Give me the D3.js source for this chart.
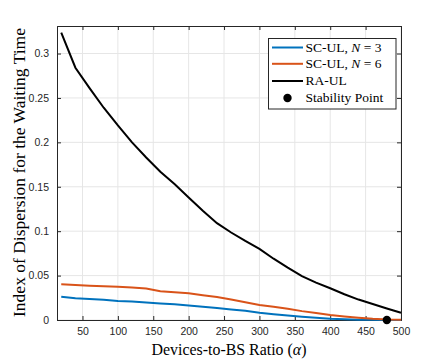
<!DOCTYPE html>
<html><head><meta charset="utf-8">
<script src="https://cdn.jsdelivr.net/npm/d3@7"></script>
<style>
body{margin:0;background:#fff;}
svg{display:block;}
.serif{font-family:"Liberation Serif","DejaVu Serif","Times New Roman",serif;}
</style></head>
<body>
<script>
const alphaRA = [20,40,60,80,100,120,140,160,180,200,220,240,260,280,300,320,340,360,380,400,420,440,460,480,500];
const raUL =    [0.3235,0.284,0.261,0.239,0.219,0.200,0.183,0.167,0.153,0.138,0.123,0.109,0.0985,0.089,0.080,0.069,0.059,0.0495,0.042,0.0357,0.029,0.023,0.018,0.013,0.0082];

const alphaSC = [20,40,60,80,100,120,140,160,180,200,220,240,260,280,300,320,340,360,380,400,420,440,460,480,500];
const scN3 =    [0.0263,0.0244,0.0236,0.0228,0.0214,0.0207,0.0198,0.0186,0.0176,0.0162,0.0148,0.0134,0.0119,0.0103,0.0082,0.0066,0.0050,0.0036,0.0024,0.0014,0.0008,0.0004,0.0002,0.0001,0.0001];
const scN6 =    [0.0402,0.0395,0.0386,0.0380,0.0375,0.0367,0.0355,0.0325,0.0312,0.0300,0.0278,0.0258,0.0230,0.0200,0.0169,0.0148,0.0126,0.0100,0.0078,0.0056,0.0040,0.0026,0.0014,0.0006,0.0003];

const stabilityX = [480];
const stabilityY = [0];

const xTicks = [50,100,150,200,250,300,350,400,450,500];
const yTicks = [0,0.05,0.1,0.15,0.2,0.25,0.3];

const seriesNames = ["SC-UL, N = 3","SC-UL, N = 6","RA-UL","Stability Point"];
const colors = ["#0072BD","#D95319","#000000","#000000"];

const W=443,H=360;
const m={left:57,top:26,right:42,bottom:40};
const pw=W-m.left-m.right, ph=H-m.top-m.bottom;

const svg=d3.select("body").append("svg").attr("width",W).attr("height",H);
const g=svg.append("g").attr("transform",`translate(${m.left},${m.top})`);

const x=d3.scaleLinear().domain([14,500]).range([0,pw]);
const y=d3.scaleLinear().domain([0,0.331]).range([ph,0]);

// grid
g.append("g").selectAll("line").data(xTicks).join("line")
 .attr("x1",d=>x(d)).attr("x2",d=>x(d)).attr("y1",0).attr("y2",ph)
 .attr("stroke","#e6e6e6").attr("stroke-width",1);
g.append("g").selectAll("line").data(yTicks).join("line")
 .attr("y1",d=>y(d)).attr("y2",d=>y(d)).attr("x1",0).attr("x2",pw)
 .attr("stroke","#e6e6e6").attr("stroke-width",1);

const axColor="#262626";
const tickFont="'Liberation Sans', Arial, sans-serif";

// axes
const xAxis=g.append("g").attr("transform",`translate(0,${ph})`)
 .call(d3.axisBottom(x).tickValues(xTicks).tickSize(-4).tickPadding(8).tickFormat(d3.format("d")));
const xAxisTop=g.append("g")
 .call(d3.axisTop(x).tickValues(xTicks).tickSize(-4).tickFormat(""));
const yAxis=g.append("g")
 .call(d3.axisLeft(y).tickValues(yTicks).tickSize(-4).tickPadding(8).tickFormat(d=>d===0?"0":String(d)));
const yAxisR=g.append("g").attr("transform",`translate(${pw},0)`)
 .call(d3.axisRight(y).tickValues(yTicks).tickSize(-4).tickFormat(""));
[xAxis,xAxisTop,yAxis,yAxisR].forEach(a=>{
  a.select(".domain").attr("stroke",axColor).attr("stroke-width",1);
  a.selectAll(".tick line").attr("stroke",axColor);
  a.selectAll("text").attr("fill",axColor).style("font-family",tickFont).style("font-size","10.5px");
});

// lines
const line=(xs,ys)=>d3.line().x((d,i)=>x(xs[i])).y(d=>y(d))(ys);
const plotG=g.append("g");
plotG.append("path").attr("d",line(alphaSC,scN3)).attr("fill","none").attr("stroke",colors[0]).attr("stroke-width",2);
plotG.append("path").attr("d",line(alphaSC,scN6)).attr("fill","none").attr("stroke",colors[1]).attr("stroke-width",2);
plotG.append("path").attr("d",line(alphaRA,raUL)).attr("fill","none").attr("stroke",colors[2]).attr("stroke-width",2);
plotG.selectAll("circle.sp").data(stabilityX).join("circle").attr("class","sp")
 .attr("cx",d=>x(d)).attr("cy",(d,i)=>y(stabilityY[i])).attr("r",4.2).attr("fill","#000");

// legend
const lg=svg.append("g");
const lx=268.5, ly=38.5, lw=127.5, lh=70.5;
lg.append("rect").attr("x",lx).attr("y",ly).attr("width",lw).attr("height",lh)
 .attr("fill","#fff").attr("stroke","#262626").attr("stroke-width",1);
const rowsY=[47.5,63.8,81,98];
function labelText(sel,name){
  const mm=name.match(/^(.*)N( = \d)$/);
  if(mm){
    sel.append("tspan").text(mm[1]);
    sel.append("tspan").attr("font-style","italic").text("N");
    sel.append("tspan").text(mm[2]);
  } else sel.text(name);
}
seriesNames.forEach((nm,i)=>{
  if(i<3){
    lg.append("line").attr("x1",272).attr("x2",303).attr("y1",rowsY[i]).attr("y2",rowsY[i])
      .attr("stroke",colors[i]).attr("stroke-width",2);
  } else {
    lg.append("circle").attr("cx",287.5).attr("cy",rowsY[i]).attr("r",4.2).attr("fill","#000");
  }
  const t=lg.append("text").attr("class","serif").attr("x",305.5).attr("y",rowsY[i]+4.3)
    .attr("font-size",13.5).attr("fill","#000");
  labelText(t,nm);
});

// axis labels
const xl=svg.append("text").attr("class","serif").attr("x",229).attr("y",354.5).attr("text-anchor","middle")
 .attr("font-size",16).attr("fill","#000");
xl.append("tspan").text("Devices-to-BS Ratio (");
xl.append("tspan").attr("font-style","italic").text("α");
xl.append("tspan").text(")");

const yl=svg.append("text").attr("class","serif").attr("transform","translate(24.5,172.5) rotate(-90)").attr("text-anchor","middle")
 .attr("font-size",16).attr("fill","#000")
 .text("Index of Dispersion for the Waiting Time");

// fit label widths
function fit(sel,target){
  const w=sel.node().getComputedTextLength();
  const fs=parseFloat(sel.attr("font-size"));
  sel.attr("font-size",(fs*target/w).toFixed(2));
}
fit(xl,155);
fit(yl,289);
</script>
</body></html>
